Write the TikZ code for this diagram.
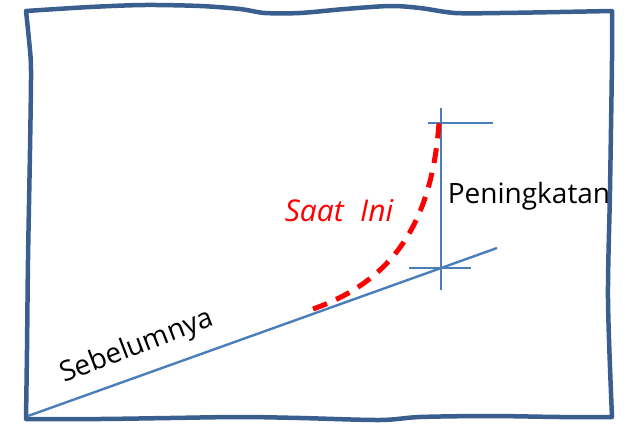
\documentclass[tikz,border=0pt]{standalone}
\usepackage{fontspec}
\setmainfont{Open Sans}
\usepackage{xcolor}
\usetikzlibrary{positioning}
\definecolor{frameblue}{HTML}{3A5F8F}
\definecolor{lineblue}{HTML}{4A7EBB}

\begin{document}
\begin{tikzpicture}[x=1pt, y=-1pt,
    sheet/.style={draw=frameblue, line width=4.5pt, line join=round},
    trend/.style={draw=lineblue, line width=2.4pt},
    tickline/.style={draw=lineblue, line width=1.8pt},
    now/.style={draw=red, line width=5pt, dash pattern=on 15pt off 10pt},
    handtext/.style={font=\fontsize{28}{30}\selectfont, inner sep=0pt}
  ]
    \useasboundingbox (0,0) rectangle (626,423);

    % hand drawn sheet
    \draw [sheet] plot [smooth] coordinates {(26,11) (90,7) (145,5) (200,6) (240,9) (265,13) (300,13) (345,9) (390,6) (420,8) (455,13) (500,13) (560,12) (612,11)}
      -- plot [smooth] coordinates {(612,11) (612,60) (610,190) (608,300) (612,417)}
      -- plot [smooth] coordinates {(612,417) (560,417) (490,416) (420,417) (380,420) (300,418) (240,417) (170,418) (100,419) (26,419)}
      -- plot [smooth] coordinates {(26,419) (27,350) (28,260) (30,150) (31,70) (29,40) (26,11)} -- cycle;

    \coordinate (origin) at (28,416);
    \coordinate (trend_end) at (497,248);
    \coordinate (v_top) at (441,108);
    \coordinate (v_bot) at (441,290);
    \coordinate (top_l) at (428,123);
    \coordinate (top_r) at (493,123);
    \coordinate (base_l) at (409,268);
    \coordinate (base_r) at (471,268);
    \coordinate (now_start) at (313,309);
    \coordinate (now_end) at (439,123);

    \draw [trend] (origin) -- (trend_end);
    \draw [tickline] (v_top) -- (v_bot);
    \draw [tickline] (top_l) -- (top_r);
    \draw [tickline] (base_l) -- (base_r);
    \draw [now] (now_start) .. controls (395,280) and (432,220) .. (now_end);

    \node (now_label) [handtext, text=red, font=\fontsize{30}{32}\selectfont\itshape] at (339,211) {Saat\hspace{0.55em}Ini};
    \node (gain) [handtext] at (529,196) {Peningkatan};
    \node (before) [handtext, rotate=21] at (137,347) {Sebelumnya};

\end{tikzpicture}
\end{document}
